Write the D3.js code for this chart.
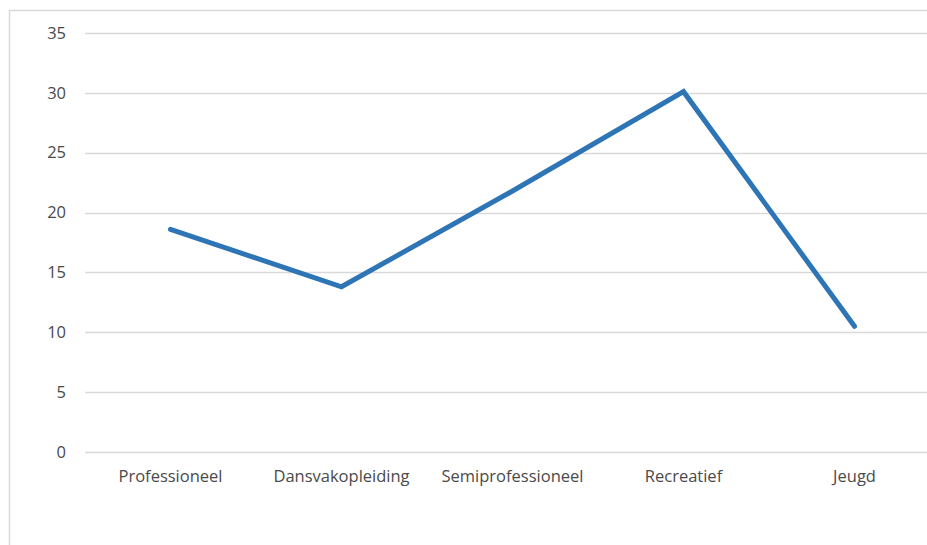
<!DOCTYPE html>
<html>
<head>
<meta charset="utf-8">
<script src="https://cdn.jsdelivr.net/npm/d3@7"></script>
<style>
  body { margin: 0; background: #fff; }
  svg { display: block; }
</style>
</head>
<body>
<svg id="chart"></svg>
<script>
let categories = ["Professioneel", "Dansvakopleiding", "Semiprofessioneel", "Recreatief", "Jeugd"]
let values = [18.6, 13.8, 21.8, 30.1, 10.5]
let yTicks = [0, 5, 10, 15, 20, 25, 30, 35]

function getConfig(){
    let width = 927;
    let height = 545;
    let margin = { top: 33, bottom: 93, left: 85, right: -13 }
    let bodyHeight = height - margin.top - margin.bottom;
    let bodyWidth = width - margin.left - margin.right;
    let container = d3.select("#chart")
        .attr("width", width)
        .attr("height", height)
    return { width, height, margin, bodyHeight, bodyWidth, container };
}

function getScales(config){
    let { bodyWidth, bodyHeight } = config;
    let xScale = d3.scaleBand()
        .domain(categories)
        .range([0, bodyWidth])
    let yScale = d3.scaleLinear()
        .domain([0, 35])
        .range([bodyHeight, 0])
    return { xScale, yScale }
}

function drawFrame(config){
    let { container, width, height } = config;
    container.append("path")
        .attr("d", `M9.5,${height} L9.5,10.5 L${width},10.5`)
        .attr("fill", "none")
        .attr("stroke", "#d9d9d9")
        .attr("stroke-width", 1.5)
}

function drawAxes(scales, config){
    let { xScale, yScale } = scales;
    let { container, margin, bodyWidth, bodyHeight } = config;

    let grid = container.append("g")
        .attr("transform", `translate(${margin.left},${margin.top})`)
    grid.selectAll("line")
        .data(yTicks)
        .enter().append("line")
        .attr("x1", 0)
        .attr("x2", bodyWidth)
        .attr("y1", d => Math.round(yScale(d)) + 0.5)
        .attr("y2", d => Math.round(yScale(d)) + 0.5)
        .attr("stroke", "#d9d9d9")
        .attr("stroke-width", 1.5)

    let axisY = d3.axisLeft(yScale)
        .tickValues(yTicks)
        .tickSize(0)
        .tickPadding(19)
    let gy = container.append("g")
        .attr("transform", `translate(${margin.left},${margin.top})`)
        .call(axisY)
    gy.select(".domain").remove()
    gy.selectAll("text")
        .style("font-family", "'Open Sans', sans-serif")
        .style("font-size", "16.5px")
        .style("fill", "#4a4a4a")

    let axisX = d3.axisBottom(xScale)
        .tickSize(0)
        .tickPadding(18)
    let gx = container.append("g")
        .attr("transform", `translate(${margin.left},${margin.top + bodyHeight})`)
        .call(axisX)
    gx.select(".domain").remove()
    gx.selectAll("text")
        .style("font-family", "'Open Sans', sans-serif")
        .style("font-size", "16.5px")
        .style("fill", "#4a4a4a")
}

function drawLine(scales, config){
    let { xScale, yScale } = scales;
    let { container, margin } = config;
    let line = d3.line()
        .x((d, i) => xScale(categories[i]) + xScale.bandwidth() / 2)
        .y(d => yScale(d))
    container.append("path")
        .datum(values)
        .attr("transform", `translate(${margin.left},${margin.top})`)
        .attr("d", line)
        .attr("fill", "none")
        .attr("stroke", "#2e75b6")
        .attr("stroke-width", 5)
        .attr("stroke-linejoin", "miter")
        .attr("stroke-linecap", "round")
}

let config = getConfig();
let scales = getScales(config);
drawFrame(config);
drawAxes(scales, config);
drawLine(scales, config);
</script>
</body>
</html>
